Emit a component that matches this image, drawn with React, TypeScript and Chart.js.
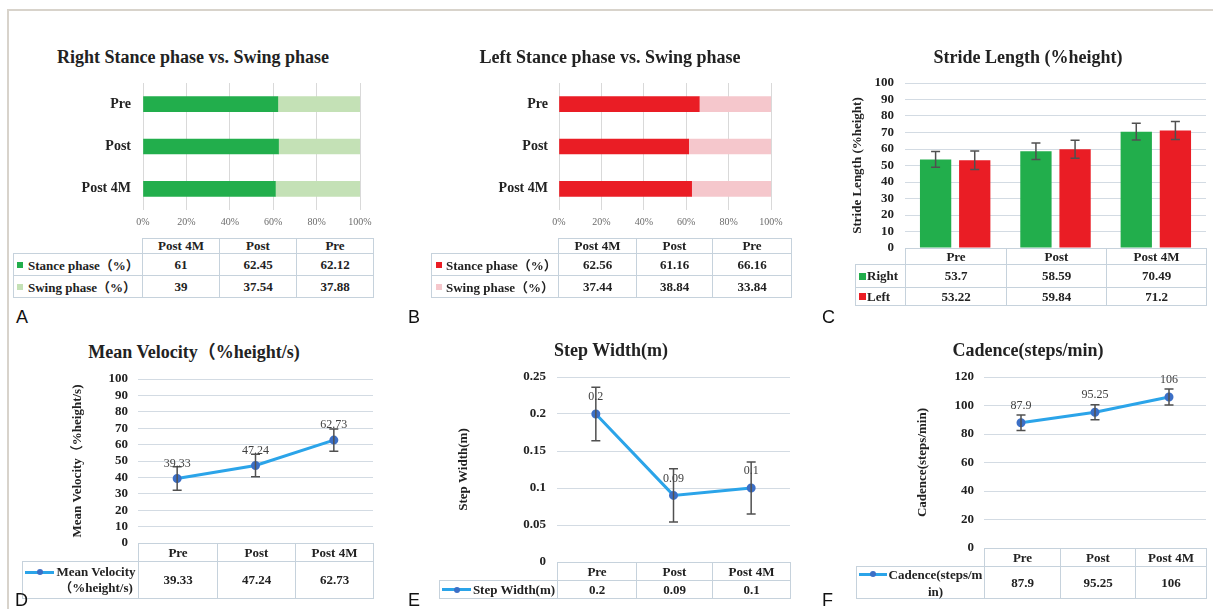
import React, { useEffect, useRef } from 'react';
import { Chart, registerables } from 'chart.js';

Chart.register(...registerables);

// ---------------- data ----------------
const phaseCategories = ['Pre', 'Post', 'Post 4M'];
const phaseTableColumns = ['Post 4M', 'Post', 'Pre'];
const rightStance = [62.12, 62.45, 61];
const rightSwing = [37.88, 37.54, 39];
const leftStance = [66.16, 61.16, 62.56];
const leftSwing = [33.84, 38.84, 37.44];

const sessions = ['Pre', 'Post', 'Post 4M'];
const strideRight = [53.7, 58.59, 70.49];
const strideLeft = [53.22, 59.84, 71.2];
const strideRightSD = [4.8, 5.0, 5.1];
const strideLeftSD = [5.6, 5.5, 5.5];
const velocity = [39.33, 47.24, 62.73];
const velocitySD = [7.1, 6.8, 6.8];
const stepWidth = [0.2, 0.09, 0.1];
const stepWidthSD = [0.036, 0.036, 0.035];
const cadence = [87.9, 95.25, 106];
const cadenceSD = [5.5, 5.3, 5.6];

// ---------------- styles ----------------
const serif = '"Liberation Serif", "Times New Roman", "Noto Sans CJK SC", serif';
const textColor = '#222222';
const gridColor = '#d3dbe3';
const tableBorder = '#c6d2dc';
const lineBlue = '#2ba4e9';
const markerBlue = '#3c6fc6';
const green = '#22ae4c';
const lightGreen = '#c4e1b6';
const red = '#ea1d25';
const pink = '#f5c7cc';

// ---------------- plugins ----------------
const errorBarPlugin = {
  id: 'errorBars',
  afterDatasetsDraw(chart: any) {
    const ctx = chart.ctx;
    chart.data.datasets.forEach((ds: any, di: number) => {
      if (!ds.errors) return;
      const meta = chart.getDatasetMeta(di);
      const yScale = chart.scales[meta.yAxisID];
      meta.data.forEach((el: any, i: number) => {
        const v = ds.data[i];
        const e = ds.errors[i];
        const x = el.x;
        const yTop = yScale.getPixelForValue(v + e);
        const yBot = yScale.getPixelForValue(v - e);
        ctx.save();
        ctx.strokeStyle = '#505050';
        ctx.lineWidth = 1.5;
        ctx.beginPath();
        ctx.moveTo(x, yTop);
        ctx.lineTo(x, yBot);
        ctx.moveTo(x - 4.5, yTop);
        ctx.lineTo(x + 4.5, yTop);
        ctx.moveTo(x - 4.5, yBot);
        ctx.lineTo(x + 4.5, yBot);
        ctx.stroke();
        ctx.restore();
      });
    });
  },
};

const valueLabelPlugin = {
  id: 'valueLabels',
  afterDatasetsDraw(chart: any) {
    const ctx = chart.ctx;
    chart.data.datasets.forEach((ds: any, di: number) => {
      if (!ds.valueLabelOffset) return;
      const meta = chart.getDatasetMeta(di);
      ctx.save();
      ctx.font = `12px ${serif}`;
      ctx.fillStyle = '#404040';
      ctx.textAlign = 'center';
      ctx.textBaseline = 'middle';
      meta.data.forEach((el: any, i: number) => {
        ctx.fillText(String(ds.data[i]), el.x, el.y - ds.valueLabelOffset);
      });
      ctx.restore();
    });
  },
};

// ---------------- configs ----------------
function phaseConfig(
  stance: number[],
  swing: number[],
  stanceColor: string,
  swingColor: string,
  yWidth: number,
  tickPad: number,
  rightPad: number
) {
  return {
    type: 'bar',
    data: {
      labels: phaseCategories,
      datasets: [
        { label: 'Stance phase', data: stance, backgroundColor: stanceColor, barThickness: 15 },
        { label: 'Swing phase', data: swing, backgroundColor: swingColor, barThickness: 15 },
      ],
    },
    options: {
      indexAxis: 'y',
      responsive: false,
      animation: false,
      layout: { padding: { left: 0, top: 21, right: rightPad, bottom: 0 } },
      plugins: { legend: { display: false }, tooltip: { enabled: false } },
      scales: {
        x: {
          stacked: true,
          min: 0,
          max: 100,
          ticks: {
            stepSize: 20,
            callback: (v: any) => v + '%',
            color: '#6b6b6b',
            font: { family: serif, size: 10 },
            padding: 6,
          },
          grid: { color: '#d9d9d9', drawTicks: false },
          border: { display: false },
          afterFit: (s: any) => {
            s.height = 25;
          },
        },
        y: {
          stacked: true,
          ticks: { color: textColor, font: { family: serif, size: 14, weight: 'bold' }, padding: tickPad },
          grid: { display: false, drawTicks: false },
          border: { display: false },
          afterFit: (s: any) => {
            s.width = yWidth;
          },
        },
      },
    },
  };
}

function strideConfig() {
  return {
    type: 'bar',
    data: {
      labels: sessions,
      datasets: [
        {
          label: 'Right',
          data: strideRight,
          errors: strideRightSD,
          backgroundColor: green,
          barPercentage: 0.8,
          categoryPercentage: 0.78,
        },
        {
          label: 'Left',
          data: strideLeft,
          errors: strideLeftSD,
          backgroundColor: red,
          barPercentage: 0.8,
          categoryPercentage: 0.78,
        },
      ],
    },
    options: {
      responsive: false,
      animation: false,
      layout: { padding: { left: 0, top: 20, right: 7, bottom: 20 } },
      plugins: { legend: { display: false }, tooltip: { enabled: false } },
      scales: {
        x: { display: false },
        y: {
          min: 0,
          max: 100,
          ticks: {
            stepSize: 10,
            autoSkip: false,
            color: textColor,
            font: { family: serif, size: 13, weight: 'bold' },
            padding: 11,
          },
          grid: { color: gridColor, drawTicks: false },
          border: { display: false },
          title: {
            display: true,
            text: 'Stride Length (%height)',
            color: textColor,
            font: { family: serif, size: 13, weight: 'bold' },
            padding: { top: 42, bottom: 0 },
          },
          afterFit: (s: any) => {
            s.width = 97;
          },
        },
      },
    },
    plugins: [errorBarPlugin],
  };
}

function lineConfig(o: {
  values: number[];
  sd: number[];
  label: string;
  min: number;
  max: number;
  step: number;
  yWidth: number;
  tickPad: number;
  title: string;
  titlePad: number;
  pad: { left: number; top: number; right: number; bottom: number };
  labelOffset: number;
  fmt?: (v: number) => string;
}) {
  return {
    type: 'line',
    data: {
      labels: sessions,
      datasets: [
        {
          label: o.label,
          data: o.values,
          errors: o.sd,
          valueLabelOffset: o.labelOffset,
          borderColor: lineBlue,
          borderWidth: 3,
          pointRadius: 3,
          pointHoverRadius: 3,
          pointBackgroundColor: markerBlue,
          pointBorderColor: markerBlue,
          fill: false,
          tension: 0,
        },
      ],
    },
    options: {
      responsive: false,
      animation: false,
      layout: { padding: o.pad },
      plugins: { legend: { display: false }, tooltip: { enabled: false } },
      scales: {
        x: { display: false, offset: true },
        y: {
          min: o.min,
          max: o.max,
          ticks: {
            stepSize: o.step,
            autoSkip: false,
            color: textColor,
            font: { family: serif, size: 13, weight: 'bold' },
            padding: o.tickPad,
            callback: (v: any) => (o.fmt ? o.fmt(Number(v)) : String(v)),
          },
          grid: { color: gridColor, drawTicks: false },
          border: { display: false },
          title: {
            display: true,
            text: o.title,
            color: textColor,
            font: { family: serif, size: 13, weight: 'bold' },
            padding: { top: o.titlePad, bottom: 0 },
          },
          afterFit: (s: any) => {
            s.width = o.yWidth;
          },
        },
      },
    },
    plugins: [errorBarPlugin, valueLabelPlugin],
  };
}

// ---------------- components ----------------
function ChartBox(props: { left: number; top: number; width: number; height: number; make: () => any }) {
  const ref = useRef<HTMLCanvasElement>(null);
  useEffect(() => {
    const chart = new Chart(ref.current as HTMLCanvasElement, props.make());
    return () => chart.destroy();
  }, []);
  return (
    <canvas
      ref={ref}
      width={props.width}
      height={props.height}
      style={{ position: 'absolute', left: props.left, top: props.top, width: props.width, height: props.height }}
    />
  );
}

function Title(props: { cx: number; cy: number; text: string }) {
  return (
    <div
      style={{
        position: 'absolute',
        left: props.cx - 220,
        width: 440,
        top: props.cy - 11,
        lineHeight: '22px',
        textAlign: 'center',
        fontFamily: serif,
        fontWeight: 'bold',
        fontSize: 18,
        color: textColor,
        whiteSpace: 'nowrap',
      }}
    >
      {props.text}
    </div>
  );
}

function PanelLetter(props: { x: number; y: number; text: string }) {
  return (
    <div
      style={{
        position: 'absolute',
        left: props.x,
        top: props.y,
        fontFamily: '"Liberation Sans", Arial, sans-serif',
        fontSize: 18,
        lineHeight: '18px',
        color: '#111',
      }}
    >
      {props.text}
    </div>
  );
}

function Cell(props: { x0: number; x1: number; y0: number; y1: number; children?: any; left?: boolean }) {
  return (
    <div
      style={{
        position: 'absolute',
        left: props.x0,
        top: props.y0,
        width: props.x1 - props.x0 + 1,
        height: props.y1 - props.y0 + 1,
        border: `1px solid ${tableBorder}`,
        boxSizing: 'border-box',
        display: 'flex',
        alignItems: 'center',
        justifyContent: props.left ? 'flex-start' : 'center',
        fontFamily: serif,
        fontWeight: 'bold',
        fontSize: 13,
        color: textColor,
        whiteSpace: 'nowrap',
        overflow: 'visible',
      }}
    >
      {props.children}
    </div>
  );
}

function DataTable(props: {
  cols: number[];
  rowsY: number[];
  headers: string[];
  legendX0: number;
  rows: { legend: any; values: (number | string)[] }[];
}) {
  const { cols, rowsY, headers, legendX0, rows } = props;
  const cells: any[] = [];
  headers.forEach((h, i) => {
    cells.push(
      <Cell key={'h' + i} x0={cols[i]} x1={cols[i + 1]} y0={rowsY[0]} y1={rowsY[1]}>
        {h}
      </Cell>
    );
  });
  rows.forEach((r, ri) => {
    const y0 = rowsY[ri + 1];
    const y1 = rowsY[ri + 2];
    cells.push(
      <Cell key={'l' + ri} x0={legendX0} x1={cols[0]} y0={y0} y1={y1} left>
        {r.legend}
      </Cell>
    );
    r.values.forEach((v, ci) => {
      cells.push(
        <Cell key={'v' + ri + '-' + ci} x0={cols[ci]} x1={cols[ci + 1]} y0={y0} y1={y1}>
          {String(v)}
        </Cell>
      );
    });
  });
  return <>{cells}</>;
}

function SquareLegend(props: { color: string; text: string; padLeft: number; size: number; gap: number }) {
  return (
    <div style={{ display: 'flex', alignItems: 'center', paddingLeft: props.padLeft }}>
      <span
        style={{ display: 'inline-block', width: props.size, height: props.size, background: props.color, marginRight: props.gap }}
      />
      <span>{props.text}</span>
    </div>
  );
}

function LineLegend(props: { lines: string[]; cellH: number; sampleW: number; lineH: number }) {
  const blockH = props.lines.length * props.lineH;
  const firstCenter = (props.cellH - blockH) / 2 + props.lineH / 2 - 1;
  return (
    <div style={{ position: 'relative', width: '100%', height: '100%' }}>
      <div
        style={{
          position: 'absolute',
          left: 2,
          top: firstCenter - 1.5,
          width: props.sampleW,
          height: 3,
          background: lineBlue,
        }}
      />
      <div
        style={{
          position: 'absolute',
          left: 2 + props.sampleW / 2 - 3,
          top: firstCenter - 3,
          width: 6,
          height: 6,
          borderRadius: 3,
          background: markerBlue,
        }}
      />
      <div
        style={{
          position: 'absolute',
          left: 2 + props.sampleW,
          right: 0,
          top: 0,
          bottom: 0,
          display: 'flex',
          flexDirection: 'column',
          justifyContent: 'center',
          alignItems: 'center',
          lineHeight: props.lineH + 'px',
        }}
      >
        {props.lines.map((l, i) => (
          <div key={i}>{l}</div>
        ))}
      </div>
    </div>
  );
}

function phaseRow(vals: number[]) {
  return phaseTableColumns.map((c) => vals[phaseCategories.indexOf(c)]);
}

export default function App() {
  return (
    <div
      style={{
        position: 'absolute',
        left: 0,
        top: 0,
        width: 1213,
        height: 609,
        background: '#ffffff',
        overflow: 'hidden',
        fontFamily: serif,
      }}
    >
      <div
        style={{
          position: 'absolute',
          left: 7,
          top: 9,
          width: 1220,
          height: 620,
          borderTop: '2px solid #d8d3cb',
          borderLeft: '2px solid #d8d3cb',
        }}
      />

      {/* A */}
      <Title cx={193} cy={57} text="Right Stance phase vs. Swing phase" />
      <ChartBox
        left={0}
        top={62}
        width={404}
        height={173}
        make={() => phaseConfig(rightStance, rightSwing, green, lightGreen, 143, 12, 44)}
      />
      <DataTable
        cols={[142, 219, 296, 373]}
        rowsY={[238, 253, 275, 297]}
        headers={phaseTableColumns}
        legendX0={13}
        rows={[
          {
            legend: <SquareLegend color={green} text="Stance phase（%）" padLeft={3} size={6} gap={5} />,
            values: phaseRow(rightStance),
          },
          {
            legend: <SquareLegend color={lightGreen} text="Swing phase（%）" padLeft={3} size={6} gap={5} />,
            values: phaseRow(rightSwing),
          },
        ]}
      />

      {/* B */}
      <Title cx={610} cy={57} text="Left Stance phase vs. Swing phase" />
      <ChartBox
        left={404}
        top={62}
        width={404}
        height={173}
        make={() => phaseConfig(leftStance, leftSwing, red, pink, 155, 11, 37)}
      />
      <DataTable
        cols={[558, 636, 712, 791]}
        rowsY={[238, 253, 275, 297]}
        headers={phaseTableColumns}
        legendX0={431}
        rows={[
          {
            legend: <SquareLegend color={red} text="Stance phase（%）" padLeft={4} size={6} gap={4} />,
            values: phaseRow(leftStance),
          },
          {
            legend: <SquareLegend color={pink} text="Swing phase（%）" padLeft={4} size={6} gap={4} />,
            values: phaseRow(leftSwing),
          },
        ]}
      />

      {/* C */}
      <Title cx={1028} cy={57} text="Stride Length (%height)" />
      <ChartBox left={808} top={63} width={405} height={205} make={strideConfig} />
      <DataTable
        cols={[905, 1006, 1106, 1206]}
        rowsY={[248, 264, 287, 305]}
        headers={sessions}
        legendX0={855}
        rows={[
          { legend: <SquareLegend color={green} text="Right" padLeft={3} size={7} gap={1} />, values: strideRight },
          { legend: <SquareLegend color={red} text="Left" padLeft={3} size={7} gap={1} />, values: strideLeft },
        ]}
      />

      {/* D */}
      <Title cx={194} cy={352} text="Mean Velocity（%height/s)" />
      <ChartBox
        left={0}
        top={359}
        width={404}
        height={204}
        make={() =>
          lineConfig({
            values: velocity,
            sd: velocitySD,
            label: 'Mean Velocity（%height/s)',
            min: 0,
            max: 100,
            step: 10,
            yWidth: 138,
            tickPad: 10,
            title: 'Mean Velocity（%height/s)',
            titlePad: 70,
            pad: { left: 0, top: 20, right: 31, bottom: 20 },
            labelOffset: 15,
          })
        }
      />
      <DataTable
        cols={[138, 217, 295, 373]}
        rowsY={[543, 561, 598]}
        headers={sessions}
        legendX0={22}
        rows={[
          {
            legend: <LineLegend lines={['Mean Velocity', '（%height/s)']} cellH={38} sampleW={29} lineH={16} />,
            values: velocity,
          },
        ]}
      />

      {/* E */}
      <Title cx={611} cy={350} text="Step Width(m)" />
      <ChartBox
        left={404}
        top={357}
        width={404}
        height={225}
        make={() =>
          lineConfig({
            values: stepWidth,
            sd: stepWidthSD,
            label: 'Step Width(m)',
            min: 0,
            max: 0.25,
            step: 0.05,
            yWidth: 153,
            tickPad: 11,
            title: 'Step Width(m)',
            titlePad: 52,
            pad: { left: 0, top: 20, right: 18, bottom: 20 },
            labelOffset: 17,
            fmt: (v) => String(Number(v.toFixed(2))),
          })
        }
      />
      <DataTable
        cols={[557, 636, 712, 790]}
        rowsY={[562, 580, 598]}
        headers={sessions}
        legendX0={439}
        rows={[
          {
            legend: <LineLegend lines={['Step Width(m)']} cellH={19} sampleW={29} lineH={16} />,
            values: stepWidth,
          },
        ]}
      />

      {/* F */}
      <Title cx={1028} cy={350} text="Cadence(steps/min)" />
      <ChartBox
        left={808}
        top={357}
        width={405}
        height={211}
        make={() =>
          lineConfig({
            values: cadence,
            sd: cadenceSD,
            label: 'Cadence(steps/min)',
            min: 0,
            max: 120,
            step: 20,
            yWidth: 176,
            tickPad: 10,
            title: 'Cadence(steps/min)',
            titlePad: 107,
            pad: { left: 0, top: 20, right: 7, bottom: 20 },
            labelOffset: 17,
          })
        }
      />
      <DataTable
        cols={[984, 1060, 1135, 1206]}
        rowsY={[548, 566, 598]}
        headers={sessions}
        legendX0={856}
        rows={[
          {
            legend: <LineLegend lines={['Cadence(steps/m', 'in)']} cellH={33} sampleW={28} lineH={17} />,
            values: cadence,
          },
        ]}
      />

      <PanelLetter x={16} y={308} text="A" />
      <PanelLetter x={408} y={308} text="B" />
      <PanelLetter x={822} y={308} text="C" />
      <PanelLetter x={15} y={591} text="D" />
      <PanelLetter x={408} y={591} text="E" />
      <PanelLetter x={822} y={591} text="F" />
    </div>
  );
}
